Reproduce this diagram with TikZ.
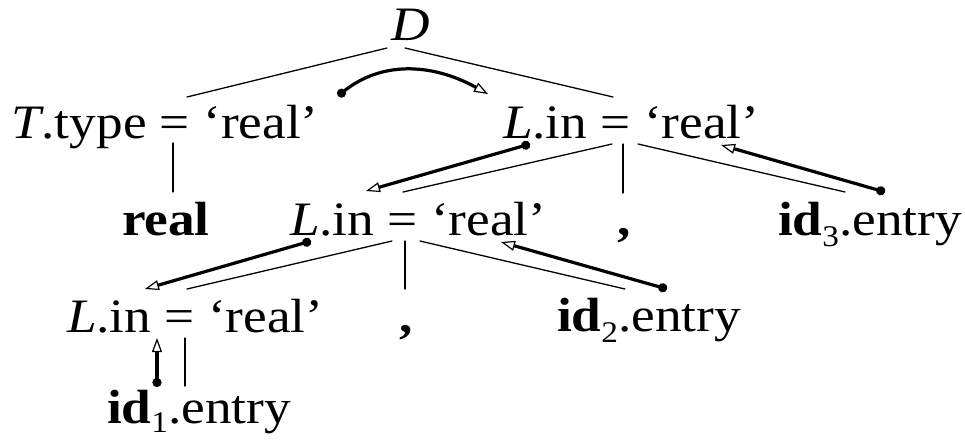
\documentclass[tikz,border=0pt]{standalone}
\usepackage{fontspec}
\setmainfont{Liberation Serif}[FakeStretch=1.11]
\usetikzlibrary{arrows.meta}
\newcommand{\mysub}[1]{\raisebox{-11pt}{\fontsize{30}{30}\selectfont #1}}
\begin{document}
\begin{tikzpicture}[x=1pt,y=-1pt,
  lbl/.style={inner sep=0pt,outer sep=0pt,anchor=base west,font=\fontsize{48}{56}\selectfont},
  treeedge/.style={line width=1.3pt,line cap=round},
  dep/.style={line width=3.2pt,{Circle[length=9pt]}-{Triangle[open,length=14pt,width=10pt,line width=1.2pt]}}]
\useasboundingbox (0,0) rectangle (965,440);
% nodes
\node[lbl,anchor=base] (D) at (411,40) {\textit{D}};
\node[lbl] (Ttype) at (12,138) {\textit{T}.type = ‘real’};
\node[lbl] (Ltop) at (503,138) {\textit{L}.in = ‘real’};
\node[lbl] (realkw) at (122,235) {\textbf{real}};
\node[lbl] (Lmid) at (290,235) {\textit{L}.in = ‘real’};
\node[lbl,anchor=base] (comma1) at (624,235) {\textbf{,}};
\node[lbl] (id3) at (778,235) {\textbf{id}\mysub{3}.entry};
\node[lbl] (Lbot) at (67,332) {\textit{L}.in = ‘real’};
\node[lbl,anchor=base] (comma2) at (406,332) {\textbf{,}};
\node[lbl] (id2) at (557,331) {\textbf{id}\mysub{2}.entry};
\node[lbl] (id1) at (107,423) {\textbf{id}\raisebox{-9pt}{\fontsize{30}{30}\selectfont 1}.entry};
% attachment points
\coordinate (Dl) at (387,48);
\coordinate (Dr) at (405,48);
\coordinate (Tn) at (187,97);
\coordinate (Ts) at (173,143);
\coordinate (realn) at (173,192);
\coordinate (Ltn) at (613,97);
\coordinate (Ltsl) at (612,144);
\coordinate (Lts) at (623,144);
\coordinate (Ltsr) at (638,144);
\coordinate (Lmn) at (403,192);
\coordinate (comma1n) at (623,193);
\coordinate (id3n) at (845,192);
\coordinate (Lmsl) at (392,241);
\coordinate (Lms) at (405,241);
\coordinate (Lmsr) at (420,241);
\coordinate (Lbn) at (187,289);
\coordinate (comma2n) at (405,289);
\coordinate (id2n) at (625,289);
\coordinate (Lbs) at (185,338);
\coordinate (id1n) at (185,386);
% tree edges
\draw[treeedge] (Dl) -- (Tn);
\draw[treeedge] (Dr) -- (Ltn);
\draw[treeedge] (Ts) -- (realn);
\draw[treeedge] (Ltsl) -- (Lmn);
\draw[treeedge] (Lts) -- (comma1n);
\draw[treeedge] (Ltsr) -- (id3n);
\draw[treeedge] (Lmsl) -- (Lbn);
\draw[treeedge] (Lms) -- (comma2n);
\draw[treeedge] (Lmsr) -- (id2n);
\draw[treeedge] (Lbs) -- (id1n);
% dependency arrows
\coordinate (a1t) at (338,96);
\coordinate (a1h) at (488,94);
\coordinate (a2t) at (530,144);
\coordinate (a2h) at (366,191);
\coordinate (a3t) at (885,192);
\coordinate (a3h) at (721,145);
\coordinate (a4t) at (311,241);
\coordinate (a4h) at (145,289);
\coordinate (a5t) at (667,289);
\coordinate (a5h) at (501,242);
\coordinate (a6t) at (157,387);
\coordinate (a6h) at (157,338);
\draw[dep] (a1t) .. controls (380,62) and (430,62) .. (a1h);
\draw[dep] (a2t) -- (a2h);
\draw[dep] (a3t) -- (a3h);
\draw[dep] (a4t) -- (a4h);
\draw[dep] (a5t) -- (a5h);
\draw[dep] (a6t) -- (a6h);
\end{tikzpicture}
\end{document}
